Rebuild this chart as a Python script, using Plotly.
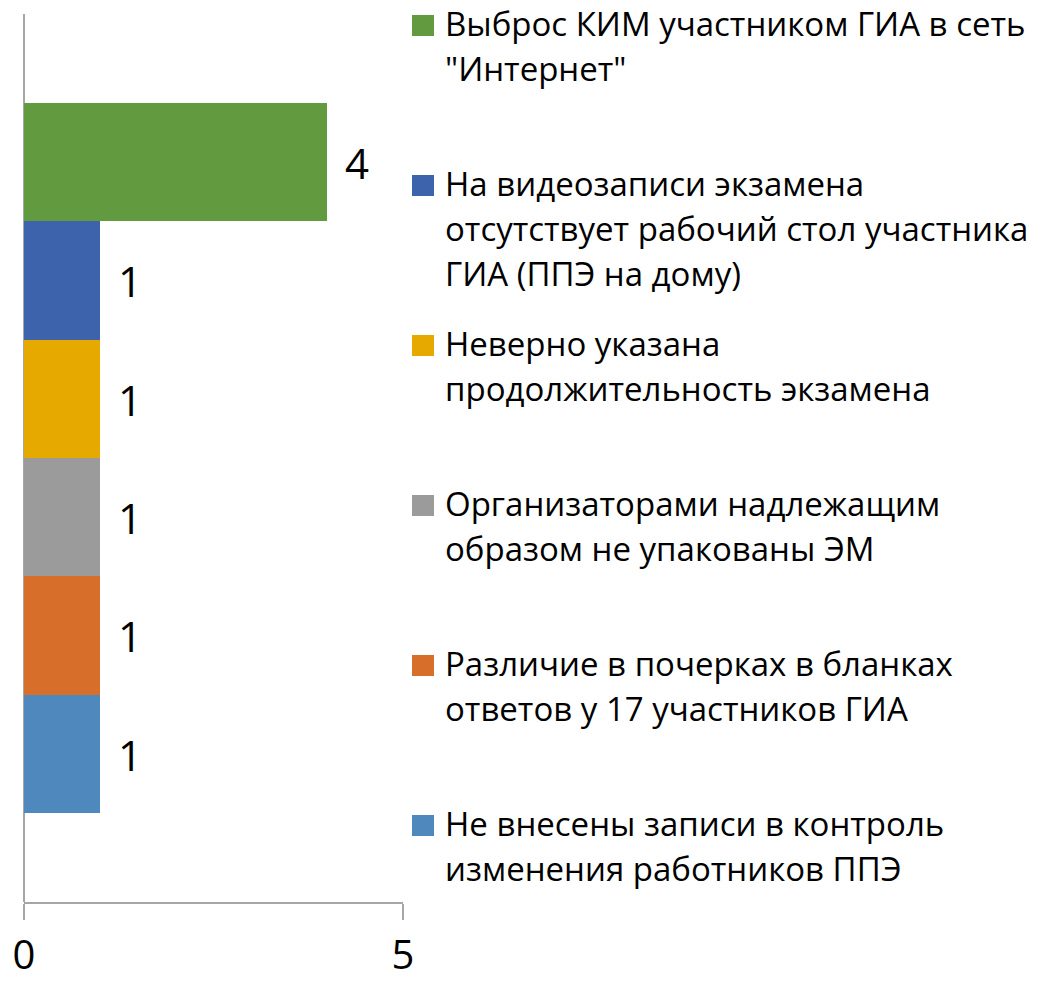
import plotly.graph_objects as go

# ---- data ----
categories = [
    'Выброс КИМ участником ГИА в сеть<br>"Интернет"',
    'На видеозаписи экзамена<br>отсутствует рабочий стол участника<br>ГИА (ППЭ на дому)',
    'Неверно указана<br>продолжительность экзамена',
    'Организаторами надлежащим<br>образом не упакованы ЭМ',
    'Различие в почерках в бланках<br>ответов у 17 участников ГИА',
    'Не внесены записи в контроль<br>изменения работников ППЭ',
]
values = [4, 1, 1, 1, 1, 1]
colors = ['#629b3f', '#3d63ac', '#e6a900', '#9b9b9b', '#d76f2b', '#4f88bd']
x_ticks = [0, 5]

FONT = 'Open Sans, Noto Sans, DejaVu Sans, sans-serif'
W, H = 1060, 982
L, R, T, B = 24, 657, 14, 80
PW, PH = W - L - R, H - T - B

fig = go.Figure()
n = len(categories)
for i, (cat, val, col) in enumerate(zip(categories, values, colors)):
    fig.add_trace(go.Bar(
        x=[val], y=[n - 1 - i], orientation='h', width=1,
        name=cat.replace('<br>', ' '),
        marker=dict(color=col, line=dict(width=0)),
        text=[val], texttemplate='\u00a0\u200a%{x}', textposition='outside',
        textfont=dict(size=42, color='#000000', family=FONT),
        cliponaxis=False, showlegend=False,
    ))

# legend drawn as shapes + text lines (Excel-style even spacing)
def px_x(p):
    return (p - L) / PW

def px_y(p):
    return (H - B - p) / PH

FS = 33
shapes = []
annotations = []
for k, (cat, col) in enumerate(zip(categories, colors)):
    top = 15 + 160 * k
    shapes.append(dict(type='rect', xref='paper', yref='paper',
                       x0=px_x(412), x1=px_x(434), y0=px_y(top + 21), y1=px_y(top),
                       fillcolor=col, line=dict(width=0)))
    for j, line in enumerate(cat.split('<br>')):
        baseline = 36 + 160 * k + 45 * j
        annotations.append(dict(xref='paper', yref='paper', x=px_x(443),
                                y=px_y(baseline - 0.388 * FS), xanchor='left', yanchor='middle',
                                text=line, showarrow=False,
                                font=dict(size=FS, color='#000000', family=FONT)))

fig.update_layout(
    width=W, height=H,
    margin=dict(l=L, r=R, t=T, b=B, pad=0, autoexpand=False),
    paper_bgcolor='white', plot_bgcolor='white',
    barmode='group', bargap=0,
    showlegend=False,
    shapes=shapes, annotations=annotations,
    xaxis=dict(range=[0, 5], tickvals=x_ticks, ticktext=[str(t) for t in x_ticks],
               showgrid=True, gridcolor='#a6a6a6', gridwidth=1.5,
               zeroline=True, zerolinecolor='#a6a6a6', zerolinewidth=1.5,
               showline=True, linecolor='#a6a6a6', linewidth=1.5,
               ticks='outside', ticklen=16, tickcolor='#a6a6a6', tickwidth=1.5,
               ticklabelstandoff=1, automargin=False,
               tickfont=dict(size=40, color='#000000', family=FONT),
               fixedrange=True),
    yaxis=dict(range=[-1.25, n + 0.25], showticklabels=False, showgrid=False,
               zeroline=False, showline=False, ticks='', fixedrange=True,
               automargin=False),
)

fig.write_html('out.html', config={'displayModeBar': False},
               post_script="document.body.style.margin='0px';")
